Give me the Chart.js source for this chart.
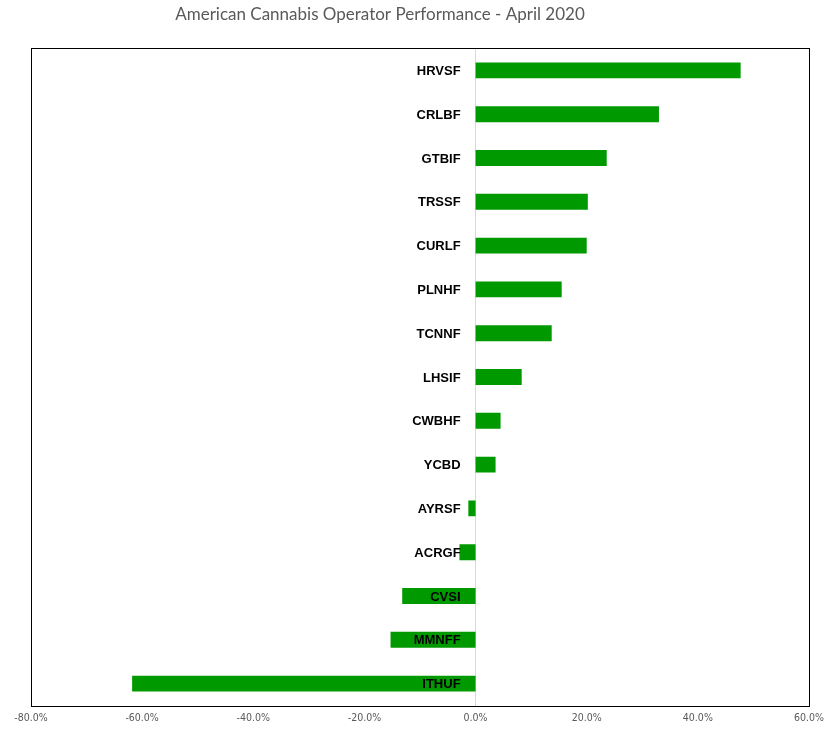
<!DOCTYPE html>
<html>
<head>
<meta charset="utf-8">
<script src="https://cdn.jsdelivr.net/npm/chart.js@4/dist/chart.umd.min.js"></script>
<style>
html,body{margin:0;padding:0;background:#fff;}
#wrap{width:830px;height:729px;position:relative;}
</style>
</head>
<body>
<div id="wrap"><canvas id="c" width="830" height="729"></canvas></div>
<script>
const titleText = 'American Cannabis Operator Performance - April 2020';
const tickers = ['HRVSF','CRLBF','GTBIF','TRSSF','CURLF','PLNHF','TCNNF','LHSIF','CWBHF','YCBD','AYRSF','ACRGF','CVSI','MMNFF','ITHUF'];
const returns = [0.477,0.330,0.236,0.202,0.200,0.155,0.137,0.083,0.045,0.036,-0.013,-0.029,-0.132,-0.153,-0.618];
const xMin = -0.8, xMax = 0.6, xStep = 0.2;

const overlay = {
  id: 'overlay',
  afterDatasetsDraw(chart) {
    const {ctx, chartArea: a, scales: {x, y}} = chart;
    ctx.save();
    ctx.font = 'bold 13px "Liberation Sans", Arial, sans-serif';
    ctx.fillStyle = '#000';
    ctx.textAlign = 'right';
    ctx.textBaseline = 'middle';
    const zx = x.getPixelForValue(0);
    tickers.forEach((t, i) => {
      ctx.fillText(t, zx - 15, y.getPixelForValue(i) + 1);
    });
    ctx.strokeStyle = '#000';
    ctx.lineWidth = 1;
    ctx.strokeRect(Math.round(a.left) + 0.5, Math.round(a.top) - 0.5, Math.round(a.right - a.left), Math.round(a.bottom - a.top) + 1);
    ctx.font = '17px Lato, "Open Sans", sans-serif';
    ctx.fillStyle = '#595959';
    ctx.textAlign = 'center';
    ctx.textBaseline = 'middle';
    ctx.fillText(titleText, 380, 15);
    ctx.restore();
  }
};

new Chart(document.getElementById('c'), {
  type: 'bar',
  data: {
    labels: tickers,
    datasets: [{
      data: returns,
      backgroundColor: '#009900',
      borderWidth: 0,
      barPercentage: 0.364,
      categoryPercentage: 1
    }]
  },
  options: {
    indexAxis: 'y',
    responsive: false,
    animation: false,
    devicePixelRatio: 1,
    layout: {padding: {left: 31, right: 21, top: 48.5, bottom: 0}},
    plugins: {legend: {display: false}, title: {display: false}, tooltip: {enabled: false}},
    scales: {
      x: {
        min: xMin, max: xMax,
        ticks: {
          stepSize: xStep,
          color: '#595959',
          font: {family: '"Liberation Sans Narrow", "DejaVu Sans Condensed", sans-serif', size: 10.5},
          padding: 6,
          maxRotation: 0,
          callback: v => {
            const p = Math.round(v * 1000) / 10;
            return (p === 0 ? 0 : p).toFixed(1) + '%';
          }
        },
        grid: {
          drawTicks: false,
          color: c => (c.tick && Math.abs(c.tick.value) < 1e-9) ? '#d9d9d9' : 'rgba(0,0,0,0)'
        },
        border: {display: false},
        afterFit: s => { s.height = 23.5; }
      },
      y: {
        display: false
      }
    }
  },
  plugins: [overlay]
});
</script>
</body>
</html>
